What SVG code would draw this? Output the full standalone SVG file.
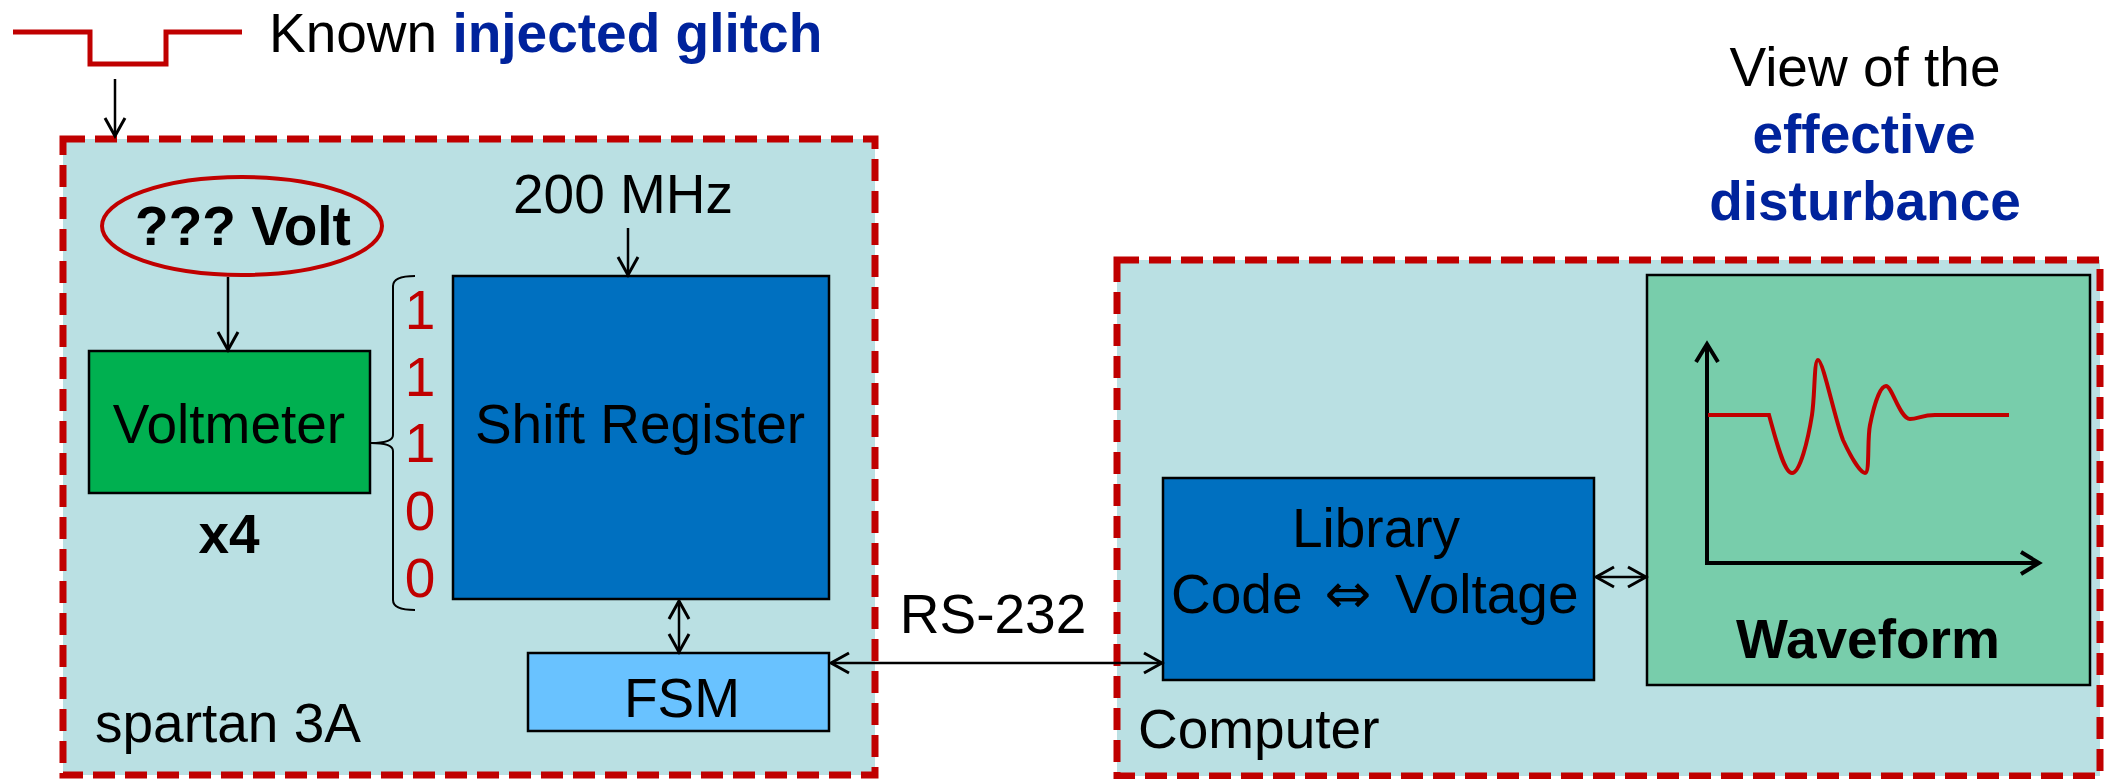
<svg xmlns="http://www.w3.org/2000/svg" width="2109" height="779" viewBox="0 0 2109 779">
<style>
  text { font-family: "Liberation Sans", Arial, sans-serif; font-size: 55px; fill: #000; }
  .b { font-weight: bold; }
  .blue { fill: #00239C; font-weight: bold; }
  .red { fill: #C00000; }
  .mid { text-anchor: middle; }
  .cont { fill: #BAE0E3; stroke: #C00000; stroke-width: 7; stroke-dasharray: 22 10; }
  .box { stroke: #000; stroke-width: 2.5; }
  .conn { fill: none; stroke: #000; stroke-width: 2.5; }
</style>
<defs>
  <marker id="ah" markerUnits="userSpaceOnUse" markerWidth="24" markerHeight="24" refX="21" refY="12" orient="auto-start-reverse">
    <path d="M3,2 L21,12 L3,22" fill="none" stroke="#000" stroke-width="3"/>
  </marker>
  <marker id="ahb" markerUnits="userSpaceOnUse" markerWidth="26" markerHeight="26" refX="22" refY="13" orient="auto">
    <path d="M4,2 L22,13 L4,24" fill="none" stroke="#000" stroke-width="4"/>
  </marker>
</defs>

<g id="glitch">
  <polyline points="13,32 90,32 90,64 166,64 166,32 242,32" fill="none" stroke="#C00000" stroke-width="5"/>
  <text x="269" y="52">Known <tspan class="blue">injected glitch</tspan></text>
</g>

<g id="view-label">
  <text class="mid" x="1865" y="86">View of the</text>
  <text class="mid blue" x="1864" y="153">effective</text>
  <text class="mid blue" x="1865" y="220">disturbance</text>
</g>

<g id="spartan">
  <rect class="cont" x="63" y="139" width="812" height="636"/>
  <text x="95" y="742">spartan 3A</text>
</g>

<g id="computer">
  <rect class="cont" x="1117" y="260" width="983" height="516"/>
  <text x="1138" y="748">Computer</text>
</g>

<g id="volt">
  <ellipse cx="242" cy="226" rx="140" ry="49" fill="none" stroke="#C00000" stroke-width="4"/>
  <text class="mid b" x="243" y="245">??? Volt</text>
</g>

<g id="voltmeter">
  <rect class="box" x="89" y="351" width="281" height="142" fill="#00B050"/>
  <text class="mid" x="229" y="443">Voltmeter</text>
  <text class="mid b" x="229" y="553">x4</text>
</g>

<g id="bits">
  <path d="M415,276 Q393,276 393,286 L393,435 Q393,443 371,443 Q393,443 393,451 L393,600 Q393,610 415,610" fill="none" stroke="#000" stroke-width="2"/>
  <text class="mid red" x="420" y="329">1</text>
  <text class="mid red" x="420" y="396">1</text>
  <text class="mid red" x="420" y="462">1</text>
  <text class="mid red" x="420" y="530">0</text>
  <text class="mid red" x="420" y="597">0</text>
</g>

<g id="clock">
  <text class="mid" x="623" y="213">200 MHz</text>
</g>

<g id="shift-register">
  <rect class="box" x="453" y="276" width="376" height="323" fill="#0070C0"/>
  <text class="mid" x="640" y="443">Shift Register</text>
</g>

<g id="fsm">
  <rect class="box" x="528" y="653" width="301" height="78" fill="#69C2FF"/>
  <text class="mid" x="682" y="717">FSM</text>
</g>

<g id="library">
  <rect class="box" x="1163" y="478" width="431" height="202" fill="#0070C0"/>
  <text class="mid" x="1376" y="547">Library</text>
  <text x="1171" y="613">Code <tspan x="1348" text-anchor="middle" style="font-family:'DejaVu Sans', sans-serif; font-size:56px">⇔</tspan><tspan x="1395">Voltage</tspan></text>
</g>

<g id="waveform">
  <rect class="box" x="1647" y="275" width="443" height="410" fill="#78CDAB"/>
  <line x1="1707" y1="565" x2="1707" y2="344" stroke="#000" stroke-width="4" marker-end="url(#ahb)"/>
  <line x1="1705" y1="563" x2="2039" y2="563" stroke="#000" stroke-width="4" marker-end="url(#ahb)"/>
  <path d="M1708,415 L1769,415 C1776,440 1784,473 1792,473 C1800,473 1808,440 1812,415 C1815,395 1814,360 1818,360 C1823,360 1835,420 1843,440 C1850,455 1860,473 1865,473 C1870,473 1867,440 1870,425 C1874,405 1880,386 1886,386 C1892,386 1900,419 1910,419 C1918,419 1922,415 1935,415 L2009,415" fill="none" stroke="#C00000" stroke-width="4"/>
  <text class="mid b" x="1868" y="658">Waveform</text>
</g>

<g id="connectors">
  <line class="conn" x1="115" y1="79" x2="115" y2="136" marker-end="url(#ah)"/>
  <line class="conn" x1="228" y1="277" x2="228" y2="350" marker-end="url(#ah)"/>
  <line class="conn" x1="628" y1="228" x2="628" y2="275" marker-end="url(#ah)"/>
  <line class="conn" x1="679" y1="601" x2="679" y2="652" marker-start="url(#ah)" marker-end="url(#ah)"/>
  <line class="conn" x1="831" y1="663" x2="1162" y2="663" stroke-width="3" marker-start="url(#ah)" marker-end="url(#ah)"/>
  <text class="mid" x="993" y="633">RS-232</text>
  <line class="conn" x1="1596" y1="577" x2="1646" y2="577" stroke-width="3" marker-start="url(#ah)" marker-end="url(#ah)"/>
</g>
</svg>
